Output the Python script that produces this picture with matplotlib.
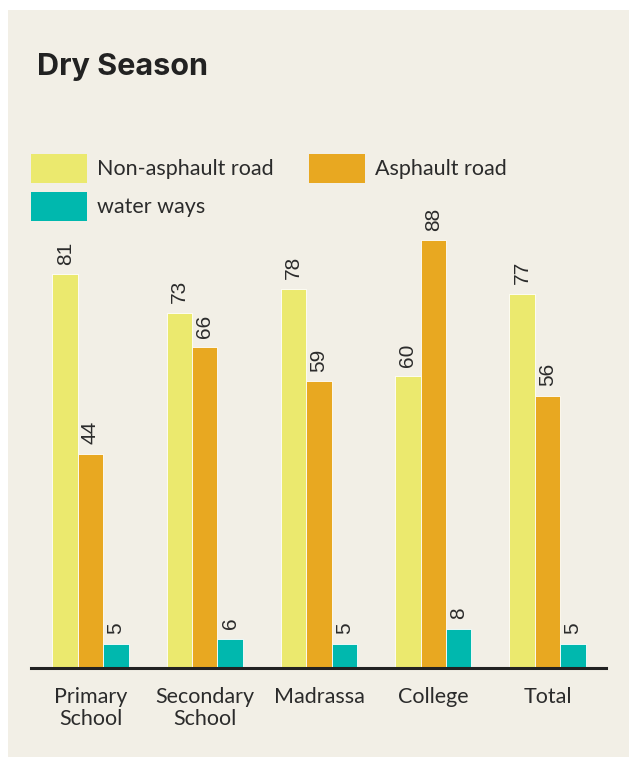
import matplotlib.pyplot as plt
from matplotlib.patches import Rectangle
import numpy as np

# categorias e valores
categories = ['Primary\nSchool', 'Secondary\nSchool', 'Madrassa', 'College', 'Total']
non_asphalt = [81, 73, 78, 60, 77]
asphalt = [44, 66, 59, 88, 56]
water_ways = [5, 6, 5, 8, 5]

series_names = ['Non-asphault road', 'Asphault road', 'water ways']
series_colors = ['#EBE96E', '#E8A821', '#00B8AE']

W, H = 629, 763
fig = plt.figure(figsize=(W / 100, H / 100), dpi=100)
fig.patch.set_facecolor('white')

# painel bege de fundo
fig.patches.append(Rectangle((8 / W, 6 / H), 1 - 8 / W, 1 - 16 / H,
                             transform=fig.transFigure, facecolor='#F2EFE6',
                             edgecolor='none', zorder=-10))

# eixo: linha base em y=668px, 4.86 px por unidade
px_unit = 4.86
ymax = 90
ax_bottom = (H - 668) / H
ax_height = ymax * px_unit / H
ax = fig.add_axes([31 / W, ax_bottom, (606 - 31) / W, ax_height])
ax.set_facecolor('none')

x = np.arange(len(categories))
width = 0.222
spacing = 114.25
ax.set_xlim(-(90.5 - 31) / spacing, (606 - 90.5) / spacing)
ax.set_ylim(0, ymax)

all_series = [non_asphalt, asphalt, water_ways]
for i, (vals, col) in enumerate(zip(all_series, series_colors)):
    pos = x + (i - 1) * width
    ax.bar(pos, vals, width, color=col, edgecolor='white', linewidth=0.6)
    for p, v in zip(pos, vals):
        ax.text(p, v + 2.0, str(v), rotation=90, ha='center', va='bottom',
                fontsize=15, color='#2b2b2b', family='Liberation Sans')

for s in ['top', 'right', 'left']:
    ax.spines[s].set_visible(False)
ax.spines['bottom'].set_linewidth(2.2)
ax.spines['bottom'].set_color('#222222')
ax.set_yticks([])
ax.set_xticks(x)
ax.set_xticklabels(categories, fontsize=15.5, color='#2b2b2b', family='Lato',
                   linespacing=1.1)
ax.tick_params(axis='x', length=0, pad=14)

# titulo
fig.text(37 / W, 1 - 75 / H, 'Dry Season', fontsize=22, fontweight='bold',
         color='#222222', family='Inter', va='baseline')

# legenda desenhada a mao
leg_pos = [(31, 154), (309, 154), (31, 192)]
for (lx, ly), name, col in zip(leg_pos, series_names, series_colors):
    fig.patches.append(Rectangle((lx / W, 1 - (ly + 29) / H), 56 / W, 29 / H,
                                 transform=fig.transFigure, facecolor=col,
                                 edgecolor='none'))
    fig.text((lx + 66) / W, 1 - (ly + 15) / H, name, fontsize=15.5,
             color='#2b2b2b', family='Lato', va='center')

fig.savefig('out.png', dpi=100)
